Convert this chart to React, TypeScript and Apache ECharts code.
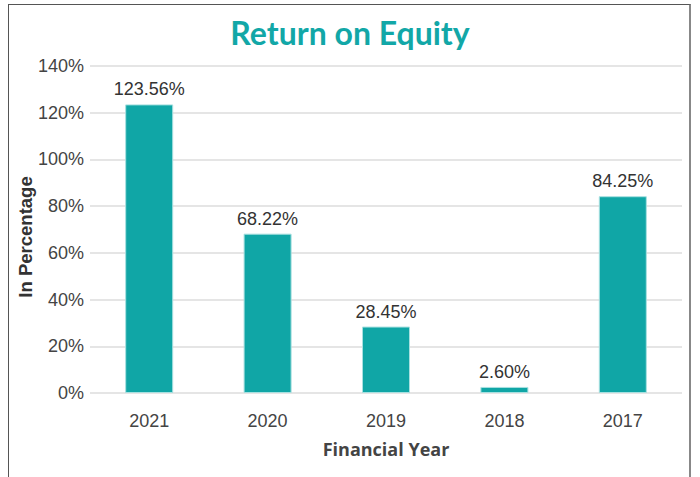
import React, { useEffect, useRef } from "react";
import * as echarts from "echarts";

const years = ["2021", "2020", "2019", "2018", "2017"];
const roe = [123.56, 68.22, 28.45, 2.6, 84.25];
const yTicks = { min: 0, max: 140, interval: 20 };
const titleText = "Return on Equity";
const xName = "Financial Year";
const yName = "In Percentage";

export default function App() {
  const ref = useRef<HTMLDivElement>(null);
  useEffect(() => {
    if (!ref.current) return;
    const chart = echarts.init(ref.current, null, { renderer: "svg" });
    chart.setOption({
      animation: false,
      backgroundColor: "transparent",
      title: {
        text: titleText,
        left: "center",
        top: 11,
        textStyle: { fontFamily: "Lato", fontWeight: "bold", fontSize: 32, color: "#12a7a7" },
      },
      grid: { left: 90, right: 18, top: 66, bottom: 84 },
      xAxis: {
        type: "category",
        data: years,
        axisLine: { show: false },
        axisTick: { show: false },
        axisLabel: { fontFamily: "Liberation Sans, Arial", fontSize: 18, color: "#444", margin: 19 },
        name: xName,
        nameLocation: "middle",
        nameGap: 47,
        nameTextStyle: { fontFamily: "Open Sans", fontWeight: "bold", fontSize: 18, color: "#444" },
      },
      yAxis: {
        type: "value",
        min: yTicks.min,
        max: yTicks.max,
        interval: yTicks.interval,
        axisLine: { show: false },
        axisTick: { show: false },
        axisLabel: { formatter: "{value}%", fontFamily: "Liberation Sans, Arial", fontSize: 18, color: "#444", margin: 6 },
        splitLine: { lineStyle: { color: "#dcdcdc", width: 1.5 } },
      },
      graphic: [
        {
          type: "text",
          x: 25,
          y: 237,
          rotation: Math.PI / 2,
          style: {
            text: yName,
            fontFamily: "Liberation Sans, Arial",
            fontWeight: "bold",
            fontSize: 18.5,
            fill: "#333",
            align: "center",
            verticalAlign: "middle",
          },
        },
      ],
      series: [
        {
          type: "bar",
          data: roe,
          barWidth: 48,
          itemStyle: { color: "#10a6a6", borderColor: "#a8e0e0", borderWidth: 1 },
          label: {
            show: true,
            position: "top",
            distance: 6,
            formatter: (p: any) => p.value.toFixed(2) + "%",
            fontFamily: "Liberation Sans, Arial",
            fontSize: 18,
            color: "#333",
          },
        },
      ],
    });
    return () => chart.dispose();
  }, []);
  return (
    <div style={{ position: "fixed", left: 0, top: 0, width: 700, height: 477, background: "#fff", overflow: "hidden" }}>
      <div
        style={{
          position: "absolute",
          left: 8,
          top: 4,
          width: 683,
          height: 490,
          borderTop: "1.5px solid #555",
          borderLeft: "1.5px solid #555",
          borderRight: "2px solid #888",
          boxSizing: "border-box",
        }}
      />
      <div ref={ref} style={{ position: "absolute", left: 0, top: 0, width: 700, height: 477 }} />
    </div>
  );
}
